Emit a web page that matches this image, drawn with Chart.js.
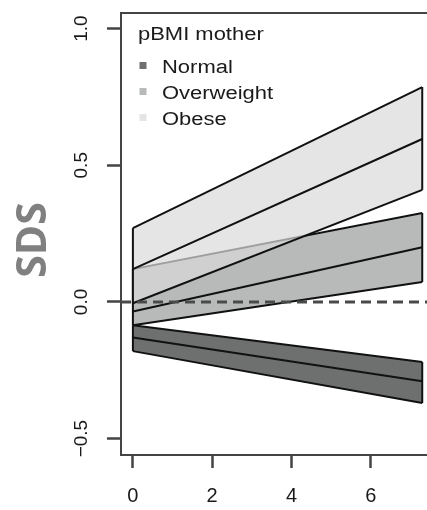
<!DOCTYPE html>
<html>
<head>
<meta charset="utf-8">
<script src="https://cdn.jsdelivr.net/npm/chart.js@4/dist/chart.umd.min.js"></script>
<style>
  html, body { margin: 0; padding: 0; background: #fff; overflow: hidden; }
  #wrap { position: relative; width: 427px; height: 510px; }
</style>
</head>
<body>
<div id="wrap"><canvas id="chartSDS" width="427" height="510"></canvas></div>
<script>
// age (years) at start and end of the fitted lines
const ages = [0, 7.3];

// pBMI mother groups, SDS at the two ages
const groupNames = ['Normal', 'Overweight', 'Obese'];
const normalUpper = [-0.085, -0.22];
const normalMean  = [-0.13, -0.29];
const normalLower = [-0.18, -0.37];
const overweightUpper = [0.12, 0.325];
const overweightMean  = [-0.035, 0.20];
const overweightLower = [-0.085, 0.073];
const obeseUpper = [0.27, 0.786];
const obeseMean  = [0.12, 0.596];
const obeseLower = [-0.005, 0.41];

const xTicks = [0, 2, 4, 6];
const yTicks = [-0.5, 0, 0.5, 1.0];
const yTickLabels = ['\u22120.5', '0.0', '0.5', '1.0'];

const fillColors = ['#6d706f', '#b8baba', 'rgba(216,218,216,0.7)'];
const legendColors = ['#6d706f', '#b8baba', '#e4e5e4'];

const X_MIN = -0.3, X_MAX = 7.42;
const Y_MIN = -0.56, Y_MAX = 1.057;

function pts(vals) {
  return ages.map((a, i) => ({x: a, y: vals[i]}));
}

function lineSet(data, extra) {
  return Object.assign({
    type: 'line',
    data: data,
    borderColor: '#111',
    borderWidth: 2,
    pointRadius: 0,
    tension: 0,
    fill: false
  }, extra || {});
}

/**
 * band: Datensaetze fuer ein Band (Linien + Flaeche)
 */
function band(baseIndex, upper, mean, lower, color) {
  return [
    lineSet(pts(upper)),
    lineSet(pts(lower)),
    lineSet(pts(mean)),
    lineSet([{x: ages[0], y: lower[0]}, {x: ages[0], y: upper[0]}]),
    lineSet([{x: ages[1], y: lower[1]}, {x: ages[1], y: upper[1]}]),
    // fill, drawn first in the group
    lineSet(pts(upper), {borderWidth: 0, borderColor: 'rgba(0,0,0,0)', fill: baseIndex + 1, backgroundColor: color})
  ];
}

const zeroLine = lineSet([{x: X_MIN, y: 0}, {x: X_MAX, y: 0}], {
  borderColor: '#4a4a4a', borderWidth: 3, borderDash: [10, 6]
});

// dataset 0 is drawn last (on top)
const datasets = [zeroLine]
  .concat(band(1, obeseUpper, obeseMean, obeseLower, fillColors[2]))
  .concat(band(7, overweightUpper, overweightMean, overweightLower, fillColors[1]))
  .concat(band(13, normalUpper, normalMean, normalLower, fillColors[0]));

const FONT = "'Liberation Sans', Arial, sans-serif";

const decorPlugin = {
  id: 'decor',
  afterDraw(chart) {
    const ctx = chart.ctx;
    const area = chart.chartArea;
    const yScale = chart.scales.y;

    // top frame line
    ctx.save();
    ctx.strokeStyle = '#444';
    ctx.lineWidth = 2;
    ctx.beginPath();
    ctx.moveTo(area.left - 1, area.top);
    ctx.lineTo(area.right, area.top);
    ctx.stroke();
    ctx.restore();

    // y tick labels, rotated like in R
    ctx.save();
    ctx.fillStyle = '#1a1a1a';
    ctx.font = '19px ' + FONT;
    ctx.textAlign = 'center';
    ctx.textBaseline = 'middle';
    yTicks.forEach((v, i) => {
      const py = yScale.getPixelForValue(v);
      ctx.save();
      ctx.translate(82, py);
      ctx.rotate(-Math.PI / 2);
      ctx.fillText(yTickLabels[i], 0, 0);
      ctx.restore();
    });
    ctx.restore();

    // axis title
    ctx.save();
    ctx.fillStyle = '#808080';
    ctx.font = "bold 41px 'Open Sans', sans-serif";
    ctx.textAlign = 'center';
    ctx.textBaseline = 'middle';
    ctx.translate(34, 240);
    ctx.rotate(-Math.PI / 2);
    ctx.fillText('SDS', 0, 0);
    ctx.restore();

    // legend
    ctx.save();
    ctx.fillStyle = '#1a1a1a';
    ctx.font = '18px ' + FONT;
    ctx.textBaseline = 'alphabetic';
    ctx.save();
    ctx.translate(138, 40);
    ctx.scale(1.22, 1);
    ctx.fillText('pBMI mother', 0, 0);
    ctx.restore();
    const rows = [73, 99, 125];
    groupNames.forEach((name, i) => {
      ctx.fillStyle = legendColors[i];
      ctx.fillRect(139.5, rows[i] - 11, 7, 7);
      ctx.fillStyle = '#1a1a1a';
      ctx.save();
      ctx.translate(162, rows[i]);
      ctx.scale(1.22, 1);
      ctx.fillText(name, 0, 0);
      ctx.restore();
    });
    ctx.restore();
  }
};

const ctx = document.getElementById('chartSDS').getContext('2d');
const myChart = new Chart(ctx, {
  type: 'line',
  data: { datasets: datasets },
  options: {
    responsive: false,
    animation: false,
    layout: { padding: { top: 13, left: 0, right: 0, bottom: 0 } },
    plugins: {
      legend: { display: false },
      tooltip: { enabled: false },
      filler: { drawTime: 'beforeDatasetDraw' }
    },
    scales: {
      x: {
        type: 'linear',
        min: X_MIN,
        max: X_MAX,
        afterBuildTicks: (s) => { s.ticks = xTicks.map(v => ({value: v})); },
        afterFit: (s) => { s.height = 55; },
        grid: { drawOnChartArea: false, tickLength: 13, tickColor: '#444', tickWidth: 2.5 },
        border: { display: true, color: '#444', width: 2 },
        ticks: { color: '#1a1a1a', font: { family: FONT, size: 20 }, padding: 16, maxRotation: 0 }
      },
      y: {
        type: 'linear',
        min: Y_MIN,
        max: Y_MAX,
        afterBuildTicks: (s) => { s.ticks = yTicks.map(v => ({value: v})); },
        afterFit: (s) => { s.width = 121; },
        grid: { drawOnChartArea: false, tickLength: 14, tickColor: '#444', tickWidth: 2.5 },
        border: { display: true, color: '#444', width: 2 },
        ticks: { display: false }
      }
    }
  },
  plugins: [decorPlugin]
});
</script>
</body>
</html>
